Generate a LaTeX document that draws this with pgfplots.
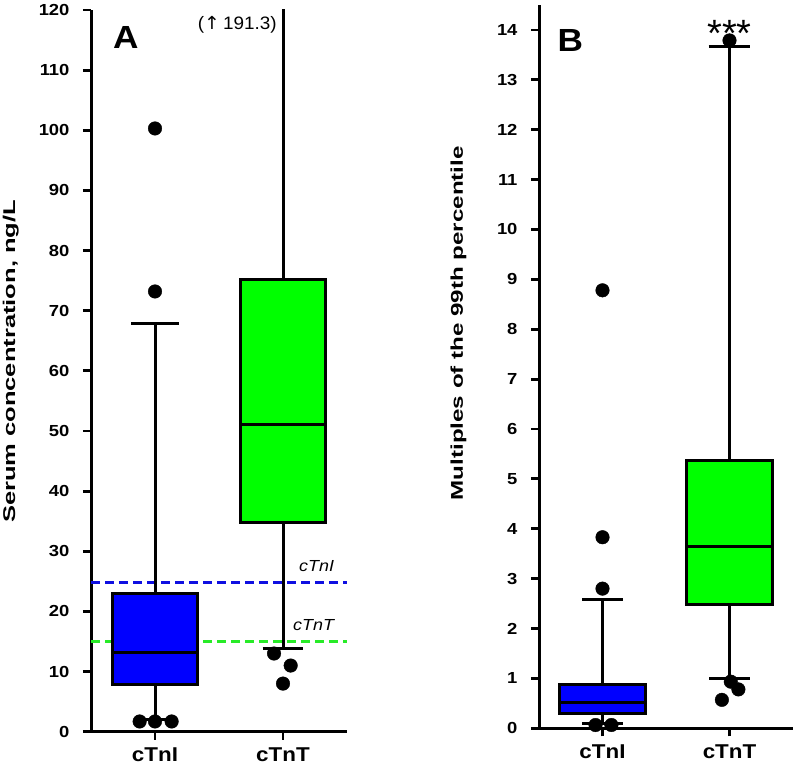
\documentclass[border=0pt]{standalone}
\usepackage{pgfplots}
\pgfplotsset{compat=1.18}
\usepackage{graphicx}
\usepackage{fontspec}
\setmainfont{Liberation Sans}
\newfontfamily\arrowfont{DejaVu Sans}

\definecolor{boxblue}{RGB}{0,0,255}
\definecolor{boxgreen}{RGB}{0,255,0}
\definecolor{dashblue}{RGB}{15,15,225}
\definecolor{dashgreen}{RGB}{40,235,40}

\pgfplotsset{
  myaxis/.style={
    scale only axis,
    axis x line*=bottom,
    axis y line*=left,
    axis line style={line width=3pt, black},
    xmin=0.5, xmax=2.5,
    xtick={1,2},
    xticklabels={\scalebox{1.12}[1]{cTnI},\scalebox{1.12}[1]{cTnT}},
    tick align=outside,
    major tick length=8pt,
    every tick/.style={black, line width=2.8pt},
    minor tick num=0,
    /pgf/number format/assume math mode=true,
    xticklabel style={font=\bfseries\fontsize{20}{20}\selectfont, inner sep=0pt, yshift=-8pt},
    yticklabel style={font=\bfseries\fontsize{16}{16}\selectfont, xshift=-10pt},
    yticklabel={\scalebox{1.15}[1]{\pgfmathprintnumber{\tick}}},
    ylabel style={font=\bfseries\fontsize{17}{17}\selectfont, anchor=center},
  },
  outl/.style={only marks, mark=*, mark size=6.8pt, black, mark options={fill=black}},
  wsk/.style={black, line width=3pt, mark=none},
  bx/.style={draw=black, line width=3pt, mark=none, line join=miter},
}

\begin{document}
\begin{tikzpicture}
\useasboundingbox (0,0) rectangle (797pt,765pt);

% ---------------- Panel A ----------------
\begin{axis}[myaxis,
  at={(91pt,33.3pt)}, anchor=south west,
  width=256pt, height=721.7pt,
  ymin=0, ymax=120, ytick={0,10,...,120},
  ylabel={\scalebox{1.5}[1]{Serum concentration, ng/L}},
  ylabel style={at={(axis description cs:-0.313,0.513)}},
]
\addplot[dashblue, line width=3.5pt, dash pattern=on 9pt off 5pt, mark=none] coordinates {(0.5,24.8) (2.5,24.8)};
\addplot[dashgreen, line width=3.5pt, dash pattern=on 9pt off 5pt, mark=none] coordinates {(0.5,15.0) (2.5,15.0)};

% cTnI
\addplot[wsk] coordinates {(1,23.0) (1,67.8)};
\addplot[wsk] coordinates {(0.815,67.8) (1.185,67.8)};
\addplot[wsk] coordinates {(1,7.8) (1,2.0)};
\addplot[wsk] coordinates {(0.84,2.0) (1.16,2.0)};
\addplot[bx, fill=boxblue] coordinates {(1,7.8) (1.33,7.8) (1.33,23.0) (0.67,23.0) (0.67,7.8) (1,7.8)};
\addplot[wsk] coordinates {(0.67,13.1) (1.33,13.1)};
% cTnT
\addplot[wsk] coordinates {(2,75.2) (2,191.3)};
\addplot[wsk] coordinates {(1.84,191.3) (2.16,191.3)};
\addplot[wsk] coordinates {(2,34.8) (2,13.9)};
\addplot[wsk] coordinates {(1.84,13.9) (2.16,13.9)};
\addplot[bx, fill=boxgreen] coordinates {(2,34.8) (2.33,34.8) (2.33,75.2) (1.67,75.2) (1.67,34.8) (2,34.8)};
\addplot[wsk] coordinates {(1.67,51.0) (2.33,51.0)};

\addplot[outl] coordinates {(1,100.3) (1,73.2) (0.88,1.7) (1,1.7) (1.13,1.7)};
\addplot[outl] coordinates {(1.93,13.0) (2.06,11.0) (2.0,8.0)};

\node[anchor=base west, font=\bfseries\fontsize{32}{32}\selectfont, inner sep=0pt] at (axis cs:0.672,113.6) {\scalebox{1.1}[1]{A}};
\node[anchor=base east, font=\fontsize{18}{18}\selectfont, inner sep=0pt] at (axis cs:1.953,116.8) {\scalebox{1.05}[1]{({\arrowfont ↑}\,191.3)}};
\node[anchor=base east, font=\itshape\fontsize{16}{16}\selectfont, inner sep=0pt] at (axis cs:2.40,26.6) {\scalebox{1.12}[1]{cTnI}};
\node[anchor=base east, font=\itshape\fontsize{16}{16}\selectfont, inner sep=0pt] at (axis cs:2.40,16.8) {\scalebox{1.12}[1]{cTnT}};
\end{axis}

% ---------------- Panel B ----------------
\begin{axis}[myaxis,
  at={(539pt,36.7pt)}, anchor=south west,
  width=254pt, height=723.3pt,
  ymin=0, ymax=14.5, ytick={0,1,...,14},
  ylabel={\scalebox{1.42}[1]{Multiples of the 99th percentile}},
  ylabel style={at={(axis description cs:-0.317,0.56)}},
]
% cTnI
\addplot[wsk] coordinates {(1,0.87) (1,2.59)};
\addplot[wsk] coordinates {(0.84,2.59) (1.16,2.59)};
\addplot[wsk] coordinates {(1,0.30) (1,0.087)};
\addplot[wsk] coordinates {(0.84,0.087) (1.16,0.087)};
\addplot[bx, fill=boxblue] coordinates {(1,0.30) (1.335,0.30) (1.335,0.87) (0.665,0.87) (0.665,0.30) (1,0.30)};
\addplot[wsk] coordinates {(0.665,0.51) (1.335,0.51)};
% cTnT
\addplot[wsk] coordinates {(2,5.37) (2,13.66)};
\addplot[wsk] coordinates {(1.835,13.66) (2.165,13.66)};
\addplot[wsk] coordinates {(2,2.49) (2,1.0)};
\addplot[wsk] coordinates {(1.84,1.0) (2.16,1.0)};
\addplot[bx, fill=boxgreen] coordinates {(2,2.49) (2.335,2.49) (2.335,5.37) (1.665,5.37) (1.665,2.49) (2,2.49)};
\addplot[wsk] coordinates {(1.665,3.64) (2.335,3.64)};

\addplot[outl] coordinates {(1,8.78) (1,3.83) (1,2.80) (0.945,0.066) (1.07,0.066)};
\addplot[outl] coordinates {(2,13.79) (2.01,0.935) (2.07,0.78) (1.94,0.57)};

\node[anchor=base west, font=\bfseries\fontsize{32}{32}\selectfont, inner sep=0pt] at (axis cs:0.646,13.57) {\scalebox{1.1}[1]{B}};
\node[anchor=base, font=\fontsize{38}{38}\selectfont, inner sep=0pt] at (axis cs:2,13.67) {***};
\end{axis}
\end{tikzpicture}
\end{document}
